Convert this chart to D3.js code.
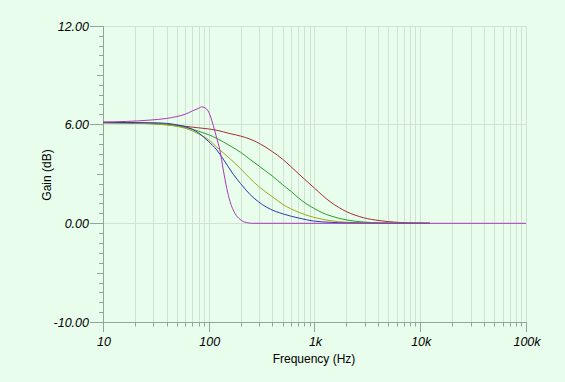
<!DOCTYPE html>
<html><head><meta charset="utf-8">
<script src="https://cdn.jsdelivr.net/npm/d3@7"></script>
<style>
html,body{margin:0;padding:0;background:#e8fdeb;}
svg{display:block;}
text{font-family:"Liberation Sans",Arial,sans-serif;fill:#000;}
</style></head>
<body><svg id="c" width="565" height="382"></svg>
<script>
// ---- data ----
const xTickValues = [10, 100, 1000, 10000, 100000];
const xTickLabels = ["10", "100", "1k", "10k", "100k"];
const yTickValues = [12, 6, 0, -10];
const yTickLabels = ["12.00", "6.00", "0.00", "-10.00"];

const redFreq  = [10, 27.8, 40, 50, 60, 70, 80, 100, 119, 159, 200, 245, 300, 400, 500, 600, 700, 800, 1000, 1402, 2016, 2894, 4163, 5990, 8500, 12370];
const redGain  = [6.08, 6.04, 5.98, 5.92, 5.86, 5.81, 5.77, 5.7, 5.62, 5.42, 5.27, 5.09, 4.83, 4.33, 3.87, 3.42, 3.02, 2.68, 2.12, 1.31, 0.7, 0.34, 0.16, 0.06, 0.02, 0];

const greenFreq = [10, 27.8, 40, 50, 60, 70, 80.5, 90, 100, 119, 159, 200, 245, 300, 400, 500, 600, 700, 850, 974, 1200, 1402, 2016, 2894, 4163, 12370];
const greenGain = [6.08, 6.02, 5.96, 5.88, 5.79, 5.68, 5.56, 5.45, 5.35, 5.13, 4.68, 4.29, 3.87, 3.45, 2.85, 2.33, 1.93, 1.55, 1.15, 0.93, 0.62, 0.46, 0.2, 0.08, 0.02, 0];

const oliveFreq = [10, 27.8, 40, 50, 60, 70, 80.5, 90, 100, 119, 159, 200, 245, 300, 400, 500, 700, 974, 1402, 2016, 4163, 12370];
const oliveGain = [6.08, 6.02, 5.94, 5.86, 5.74, 5.58, 5.4, 5.23, 5.04, 4.6, 3.9, 3.3, 2.72, 2.2, 1.6, 1.15, 0.68, 0.37, 0.16, 0.06, 0.01, 0];

const blueFreq = [10, 27.8, 40, 50, 60, 70, 80.5, 90, 100, 119, 137, 171, 200, 245, 353, 508, 730, 974, 1402, 2016, 4163, 12370];
const blueGain = [6.1, 6.08, 6.04, 5.95, 5.84, 5.68, 5.45, 5.2, 4.93, 4.43, 3.88, 2.95, 2.4, 1.75, 0.97, 0.56, 0.3, 0.14, 0.06, 0.02, 0.005, 0];

const purpleFreq = [10, 27.8, 40, 50, 60, 70, 80.5, 85.8, 90, 99.8, 106.6, 114.5, 119, 127.6, 137.3, 148, 159, 177, 197.5, 228, 260, 100000];
const purpleGain = [6.12, 6.24, 6.34, 6.46, 6.6, 6.8, 6.97, 7.05, 7.02, 6.74, 6.24, 5.54, 5.15, 4.4, 3.22, 2.11, 1.31, 0.6, 0.24, 0.04, 0, 0];

const seriesNames  = ["red", "green", "olive", "blue", "purple"];
const seriesColors = ["#a33030", "#2a9e2a", "#a3a31e", "#2a3cb0", "#a83ab8"];
const seriesFreqs  = [redFreq, greenFreq, oliveFreq, blueFreq, purpleFreq];
const seriesGains  = [redGain, greenGain, oliveGain, blueGain, purpleGain];

// ---- layout ----
const svg = d3.select("#c");
const x = d3.scaleLog().domain([10, 100000]).range([103, 526]);
const y = d3.scaleLinear().domain([-10, 0, 6, 12]).range([322, 223.3, 124, 26]);

const gridColor = "#d2e2d2";
const axisColor = "#95a595";

// minor log positions
const xMinor = [];
for (let d = 10; d < 100000; d *= 10) for (let k = 1; k <= 10; k++) xMinor.push(d * k);

// vertical grid
svg.append("g").selectAll("line").data(xMinor.filter(v => v > 10)).join("line")
  .attr("x1", d => Math.round(x(d)) + 0.5).attr("x2", d => Math.round(x(d)) + 0.5)
  .attr("y1", y(12)).attr("y2", y(-10))
  .attr("stroke", gridColor).attr("stroke-width", 1);

// horizontal grid
svg.append("g").selectAll("line").data([12, 6, 0]).join("line")
  .attr("x1", x(10)).attr("x2", x(100000))
  .attr("y1", d => Math.round(y(d)) + 0.5).attr("y2", d => Math.round(y(d)) + 0.5)
  .attr("stroke", gridColor).attr("stroke-width", 1);

// axes lines
const ax = svg.append("g").attr("stroke", axisColor).attr("stroke-width", 1);
ax.append("line").attr("x1", 103.5).attr("x2", 103.5).attr("y1", y(12)).attr("y2", y(-10) + 10);
ax.append("line").attr("x1", x(10)).attr("x2", x(100000) + 0.5).attr("y1", y(-10) + 0.5).attr("y2", y(-10) + 0.5);

// x ticks
ax.selectAll(".xt").data(xMinor).join("line")
  .attr("x1", d => Math.round(x(d)) + 0.5).attr("x2", d => Math.round(x(d)) + 0.5)
  .attr("y1", y(-10)).attr("y2", d => y(-10) + (xTickValues.includes(d) ? 10 : 4.5));

// y ticks: 10 sub-intervals per labelled interval
const yMinor = [];
for (let i = 0; i < yTickValues.length - 1; i++) {
  const a = yTickValues[i], b = yTickValues[i + 1];
  for (let k = 1; k < 10; k++) yMinor.push({v: a + (b - a) * k / 10, mid: k === 5});
}
ax.selectAll(".ym").data(yMinor).join("line")
  .attr("x1", d => d.mid ? 97 : 99).attr("x2", 103.5)
  .attr("y1", d => Math.round(y(d.v)) + 0.5).attr("y2", d => Math.round(y(d.v)) + 0.5);
ax.selectAll(".yM").data(yTickValues).join("line")
  .attr("x1", 90).attr("x2", 103.5)
  .attr("y1", d => Math.round(y(d)) + 0.5).attr("y2", d => Math.round(y(d)) + 0.5);

// tick labels
svg.append("g").selectAll("text").data(yTickValues).join("text")
  .attr("x", 89).attr("y", d => y(d) + 4.5)
  .attr("text-anchor", "end").attr("font-size", "12.5px").attr("font-style", "italic")
  .text((d, i) => yTickLabels[i]);
svg.append("g").selectAll("text").data(xTickValues).join("text")
  .attr("x", d => x(d) + 1).attr("y", 346)
  .attr("text-anchor", "middle").attr("font-size", "12.5px").attr("font-style", "italic")
  .text((d, i) => xTickLabels[i]);

// axis titles
svg.append("text").attr("x", 314).attr("y", 363).attr("text-anchor", "middle")
  .attr("font-size", "12px").text("Frequency (Hz)");
svg.append("text").attr("transform", "translate(51,175) rotate(-90)").attr("text-anchor", "middle")
  .attr("font-size", "12px").text("Gain (dB)");

// curves
const line = d3.line().x(d => x(d[0])).y(d => y(d[1])).curve(d3.curveMonotoneX);
seriesNames.forEach((n, i) => {
  const pts = seriesFreqs[i].map((f, j) => [f, seriesGains[i][j]]);
  svg.append("path").datum(pts).attr("d", line)
    .attr("fill", "none").attr("stroke", seriesColors[i]).attr("stroke-width", 1);
});
</script></body></html>
